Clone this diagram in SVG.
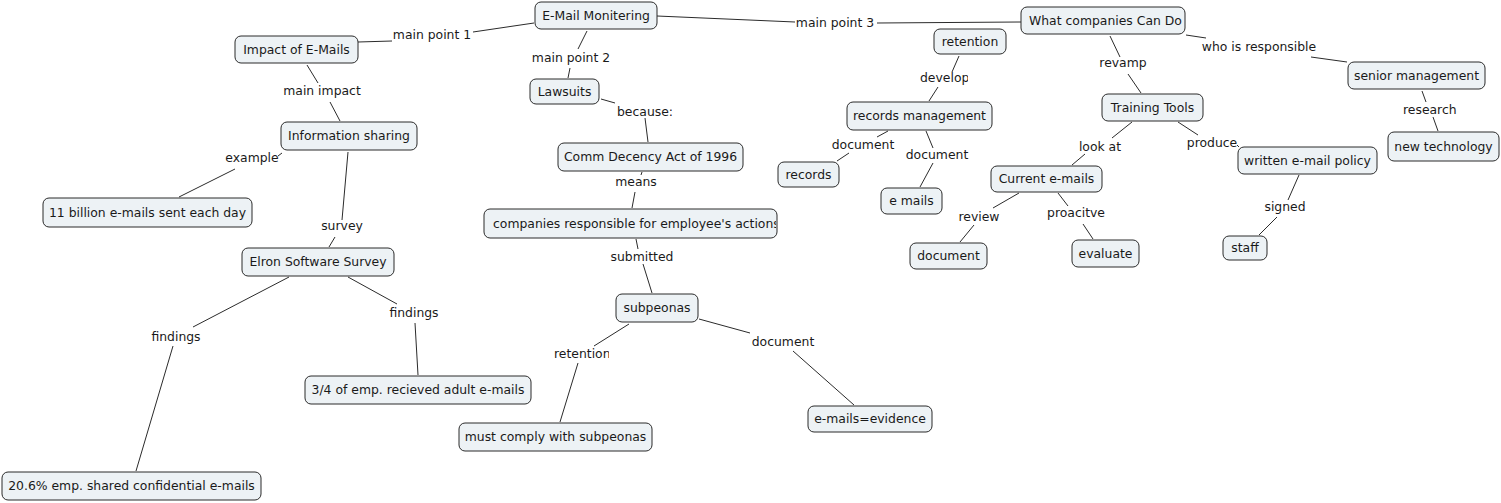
<svg xmlns="http://www.w3.org/2000/svg" width="1501" height="503" viewBox="0 0 1501 503">
<defs>
<style>
.n rect{fill:#edf2f5;stroke:#2b2b2b;stroke-width:1}
.n text{font-family:"DejaVu Sans",Verdana,sans-serif;font-size:12.4px;fill:#1a1a1a;text-anchor:middle}
.l{font-family:"DejaVu Sans",Verdana,sans-serif;font-size:12.4px;fill:#1a1a1a;text-anchor:middle}
.ls{text-anchor:start}
#connectors line{stroke:#2b2b2b;stroke-width:1;fill:none}
</style>
<clipPath id="cWhat"><rect x="1021" y="7" width="163" height="27"/></clipPath>
<clipPath id="cComp"><rect x="484" y="209" width="292" height="29"/></clipPath>
<clipPath id="cRet"><rect x="550" y="340" width="59" height="30"/></clipPath>
<clipPath id="cDev"><rect x="915" y="64" width="53" height="28"/></clipPath>
<clipPath id="cRes"><rect x="1398" y="96" width="59" height="28"/></clipPath>
</defs>
<rect width="1501" height="503" fill="#ffffff"/>
<g id="connectors">
<line x1="358" y1="42" x2="392" y2="41"/><line x1="473" y1="32" x2="534" y2="23"/>
<line x1="587" y1="31" x2="578" y2="49"/><line x1="570" y1="68" x2="568" y2="78"/>
<line x1="657" y1="16" x2="795" y2="22"/><line x1="877" y1="23" x2="1021" y2="22"/>
<line x1="307" y1="65" x2="318" y2="83"/><line x1="330" y1="102" x2="340" y2="121"/>
<line x1="601" y1="99" x2="615" y2="103"/><line x1="645" y1="118" x2="648" y2="142"/>
<line x1="282" y1="153" x2="278" y2="156"/><line x1="235" y1="169" x2="179" y2="197"/>
<line x1="348" y1="152" x2="342" y2="220"/><line x1="335" y1="237" x2="329" y2="247"/>
<line x1="289" y1="277" x2="193" y2="327"/><line x1="173" y1="346" x2="136" y2="471"/>
<line x1="348" y1="277" x2="397" y2="304"/><line x1="415" y1="323" x2="418" y2="375"/>
<line x1="642" y1="172" x2="641" y2="175"/><line x1="635" y1="192" x2="632" y2="208"/>
<line x1="636" y1="239" x2="638" y2="249"/><line x1="643" y1="264" x2="652" y2="293"/>
<line x1="629" y1="324" x2="594" y2="346"/><line x1="578" y1="363" x2="560" y2="422"/>
<line x1="699" y1="319" x2="750" y2="333"/><line x1="793" y1="351" x2="854" y2="405"/>
<line x1="959" y1="56" x2="952" y2="72"/><line x1="938" y1="87" x2="929" y2="101"/>
<line x1="1110" y1="36" x2="1120" y2="57"/><line x1="1128" y1="74" x2="1141" y2="93"/>
<line x1="1186" y1="35" x2="1206" y2="38"/><line x1="1311" y1="57" x2="1347" y2="62"/>
<line x1="1422" y1="91" x2="1426" y2="102"/><line x1="1433" y1="117" x2="1438" y2="131"/>
<line x1="1132" y1="122" x2="1112" y2="138"/><line x1="1085" y1="154" x2="1072" y2="165"/>
<line x1="1178" y1="122" x2="1198" y2="135"/><line x1="1237" y1="145" x2="1239" y2="147"/>
<line x1="1299" y1="175" x2="1288" y2="200"/><line x1="1277" y1="217" x2="1259" y2="235"/>
<line x1="888" y1="131" x2="877" y2="137"/><line x1="849" y1="153" x2="837" y2="161"/>
<line x1="926" y1="131" x2="933" y2="148"/><line x1="933" y1="163" x2="920" y2="187"/>
<line x1="1019" y1="193" x2="993" y2="208"/><line x1="974" y1="225" x2="960" y2="242"/>
<line x1="1058" y1="193" x2="1068" y2="206"/><line x1="1083" y1="224" x2="1093" y2="239"/>
</g>
<g id="labels">
<text class="l" x="432" y="39">main point 1</text>
<text class="l" x="571" y="62">main point 2</text>
<text class="l" x="835" y="27">main point 3</text>
<text class="l" x="322" y="95">main impact</text>
<text class="l" x="645" y="116">because:</text>
<text class="l" x="252" y="162">example</text>
<text class="l" x="342" y="230">survey</text>
<text class="l" x="176" y="341">findings</text>
<text class="l" x="414" y="317">findings</text>
<text class="l" x="636" y="186">means</text>
<text class="l" x="642" y="261">submitted</text>
<text class="l ls" x="554" y="358" clip-path="url(#cRet)">retention</text>
<text class="l" x="783" y="346">document</text>
<text class="l ls" x="920" y="82" clip-path="url(#cDev)">develop</text>
<text class="l" x="1123" y="67">revamp</text>
<text class="l" x="1259" y="51">who is responsible</text>
<text class="l ls" x="1403" y="114" clip-path="url(#cRes)">research</text>
<text class="l" x="1100" y="151">look at</text>
<text class="l" x="1212" y="147">produce</text>
<text class="l" x="1285" y="211">signed</text>
<text class="l" x="863" y="149">document</text>
<text class="l" x="937" y="159">document</text>
<text class="l" x="979" y="221">review</text>
<text class="l" x="1076" y="217">proacitve</text>
</g>
<g id="n-email" class="n"><rect x="535" y="2" width="122" height="27" rx="6"/><text x="596" y="19.5">E-Mail Monitering</text></g>
<g id="n-impact" class="n"><rect x="235" y="36" width="123" height="27" rx="6"/><text x="296.5" y="53.5">Impact of E-Mails</text></g>
<g id="n-lawsuits" class="n"><rect x="530" y="79" width="69" height="25" rx="6"/><text x="564.5" y="95.5">Lawsuits</text></g>
<g id="n-info" class="n"><rect x="281" y="122" width="136" height="28" rx="6"/><text x="349" y="140">Information sharing</text></g>
<g id="n-comm" class="n"><rect x="558" y="143" width="185" height="28" rx="6"/><text x="650.5" y="161">Comm Decency Act of 1996</text></g>
<g id="n-companies" class="n"><rect x="484" y="209" width="293" height="29" rx="6"/><text x="493" y="227.5" style="text-anchor:start" clip-path="url(#cComp)">companies responsible for employee's actions</text></g>
<g id="n-subpeonas" class="n"><rect x="616" y="294" width="82" height="28" rx="6"/><text x="657" y="312">subpeonas</text></g>
<g id="n-comply" class="n"><rect x="459" y="423" width="193" height="28" rx="6"/><text x="555.5" y="441">must comply with subpeonas</text></g>
<g id="n-evidence" class="n"><rect x="808" y="406" width="124" height="26" rx="6"/><text x="870" y="423">e-mails=evidence</text></g>
<g id="n-billion" class="n"><rect x="43" y="198" width="209" height="29" rx="6"/><text x="147.5" y="216.5">11 billion e-mails sent each day</text></g>
<g id="n-elron" class="n"><rect x="242" y="248" width="152" height="28" rx="6"/><text x="318" y="266">Elron Software Survey</text></g>
<g id="n-threeq" class="n"><rect x="305" y="376" width="226" height="28" rx="6"/><text x="418" y="394">3/4 of emp. recieved adult e-mails</text></g>
<g id="n-twenty" class="n"><rect x="2" y="472" width="259" height="28" rx="6"/><text x="131.5" y="490">20.6% emp. shared confidential e-mails</text></g>
<g id="n-what" class="n"><rect x="1021" y="7" width="164" height="27" rx="6"/><text x="1029" y="24.5" style="text-anchor:start" clip-path="url(#cWhat)">What companies Can Do</text></g>
<g id="n-retention" class="n"><rect x="934" y="29" width="72" height="25" rx="6"/><text x="970" y="45.5">retention</text></g>
<g id="n-recmgmt" class="n"><rect x="847" y="102" width="145" height="28" rx="6"/><text x="919.5" y="120">records management</text></g>
<g id="n-training" class="n"><rect x="1102" y="94" width="101" height="27" rx="6"/><text x="1152.5" y="111.5">Training Tools</text></g>
<g id="n-current" class="n"><rect x="991" y="166" width="111" height="26" rx="6"/><text x="1046.5" y="183">Current e-mails</text></g>
<g id="n-records" class="n"><rect x="778" y="162" width="61" height="25" rx="6"/><text x="808.5" y="178.5">records</text></g>
<g id="n-emails" class="n"><rect x="881" y="188" width="61" height="26" rx="6"/><text x="911.5" y="205">e mails</text></g>
<g id="n-document" class="n"><rect x="910" y="243" width="77" height="26" rx="6"/><text x="948.5" y="260">document</text></g>
<g id="n-evaluate" class="n"><rect x="1072" y="240" width="67" height="27" rx="6"/><text x="1105.5" y="257.5">evaluate</text></g>
<g id="n-written" class="n"><rect x="1238" y="147" width="139" height="27" rx="6"/><text x="1307.5" y="164.5">written e-mail policy</text></g>
<g id="n-staff" class="n"><rect x="1223" y="236" width="44" height="24" rx="6"/><text x="1245" y="252">staff</text></g>
<g id="n-senior" class="n"><rect x="1348" y="62" width="137" height="27" rx="6"/><text x="1416.5" y="79.5">senior management</text></g>
<g id="n-newtech" class="n"><rect x="1388" y="132" width="111" height="29" rx="6"/><text x="1443.5" y="150.5">new technology</text></g>
</svg>
